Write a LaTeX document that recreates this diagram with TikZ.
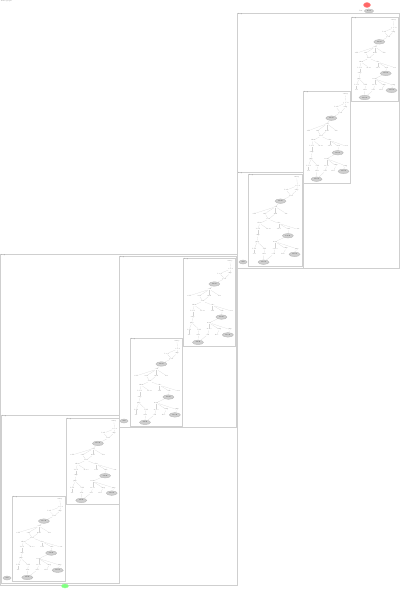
\documentclass[tikz,border=0pt]{standalone}
\usepackage{fontspec}
\usetikzlibrary{shapes.geometric}

\tikzset{
  op/.style={font=\fontsize{1.6}{2}\selectfont, text=black!60, inner sep=0.2pt},
  blob/.style={ellipse, draw=gray!55, fill=gray!38, minimum width=11pt, minimum height=4.5pt, inner sep=0pt, font=\fontsize{1.4}{2}\selectfont},
  frame/.style={draw=gray!38, line width=0.65pt},
  wire/.style={draw=gray!35, line width=0.15pt}
}

\newcommand{\leaf}[5]{%
  \draw[frame] (#2,#3) rectangle ++(#4,#5);
  \node[op, anchor=north west] (#1lbl) at (#2+0.6,#3+0.4) {loop};
  \foreach \n/\u/\v/\t in {n1/46/3.4/entry, n2/46.7/11/i = 0, n3/36/15.4/load, n4/46/15.4/cmp,
      n5/40.7/20.4/test, n6/26/31/call,
      a1/6/37.4/add, a2/16/37.4/sub, a3/26/37.4/mul, a4/36/37.4/div,
      n7/19.4/42.7/test, n8/11/46.7/then, n9/29/46.7/else,
      b1/9.4/52.4/load, b2/19.4/52.4/store, b3/29/52.4/add, b4/38.4/52.4/sub, b5/47.4/52.4/ret,
      n10/9.4/58.4/cmp, n11/8.7/64/jmp, n12/25.7/64/next,
      c1/6/70.7/load, c2/15.7/70.7/add, c3/25.7/70.7/store, c4/35.7/70.7/cmp, c5/46/70.7/jmp,
      d1/6/76/ret, d2/15/76/exit, d3/24/76/call, d4/33/76/free}
    \node[op] (#1\n) at ({#2+\u*#4/51},{#3+\v*#5/87}) {\t};
  \foreach \n/\u/\v in {g1/30.7/25.7, g2/37.7/58.4, g3/44/76, g4/14.7/83.4}
    \node[blob] (#1\n) at ({#2+\u*#4/51},{#3+\v*#5/87}) {block};
  \foreach \a/\b in {n1/n2, n2/n3, n2/n4, n3/n5, n4/n5, n5/g1, g1/n6, n6/a1, n6/a2, n6/a3, n6/a4,
      a2/n7, a3/n7, n7/n8, n7/n9, n8/b1, n8/b2, n9/b3, n9/b4, n9/b5, b1/n10, b4/g2,
      n10/n11, g2/n12, n11/c1, n11/c2, n12/c3, n12/c4, n12/c5,
      c1/d1, c2/d2, c3/d3, c4/d4, c5/g3, d2/g4, d3/g4}
    \draw[wire] (#1\a) -- (#1\b);
}

\begin{document}
\begin{tikzpicture}[x=1pt, y=-1pt]
  \useasboundingbox (0,0) rectangle (400,589);
  \node[op, anchor=north west] (title) at (0.5,0.3) {main graph};

  \node[ellipse, fill=red!60, draw=red!45, minimum width=7pt, minimum height=5pt, inner sep=0pt] (start) at (367,5) {};
  \node[blob, minimum width=9pt, minimum height=4pt] (head) at (369,11) {head};
  \node[op, anchor=east] (headlbl) at (363,11) {Dir};
  \draw[wire] (start) -- (head);

  \draw[frame] (237,13) rectangle (399,268);
  \node[op, anchor=north west] (outerA) at (237.6,13.4) {loop};
  \draw[frame] (237,172) rectangle (303,268);
  \node[op, anchor=north west] (midA) at (237.6,172.4) {loop};
  \leaf{A1}{351}{17}{47}{84}
  \leaf{A2}{303}{91}{47}{92}
  \leaf{A3}{248}{174}{54}{92}
  \node[blob, minimum width=8pt, minimum height=4pt] (tailA) at (243,262) {exit};

  \draw[frame] (0,254) rectangle (237,585);
  \node[op, anchor=north west] (outerB) at (0.6,254.4) {loop};
  \draw[frame] (119,256) rectangle (236,427);
  \node[op, anchor=north west] (midB) at (119.6,256.4) {loop};
  \leaf{B1a}{183}{258}{52}{88}
  \leaf{B1b}{130}{338}{52}{88}
  \node[blob, minimum width=8pt, minimum height=4pt] (tailB) at (124,421) {exit};
  \draw[frame] (1,415) rectangle (119,583);
  \node[op, anchor=north west] (midC) at (1.6,415.4) {loop};
  \leaf{B2a}{66}{418}{53}{86}
  \leaf{B2b}{12}{496}{53}{85}
  \node[blob, minimum width=8pt, minimum height=4pt] (tailC) at (7,578) {exit};

  \node[ellipse, fill=green!50, draw=green!40, minimum width=7pt, minimum height=4pt, inner sep=0pt] (stop) at (65,586) {};
\end{tikzpicture}
\end{document}
